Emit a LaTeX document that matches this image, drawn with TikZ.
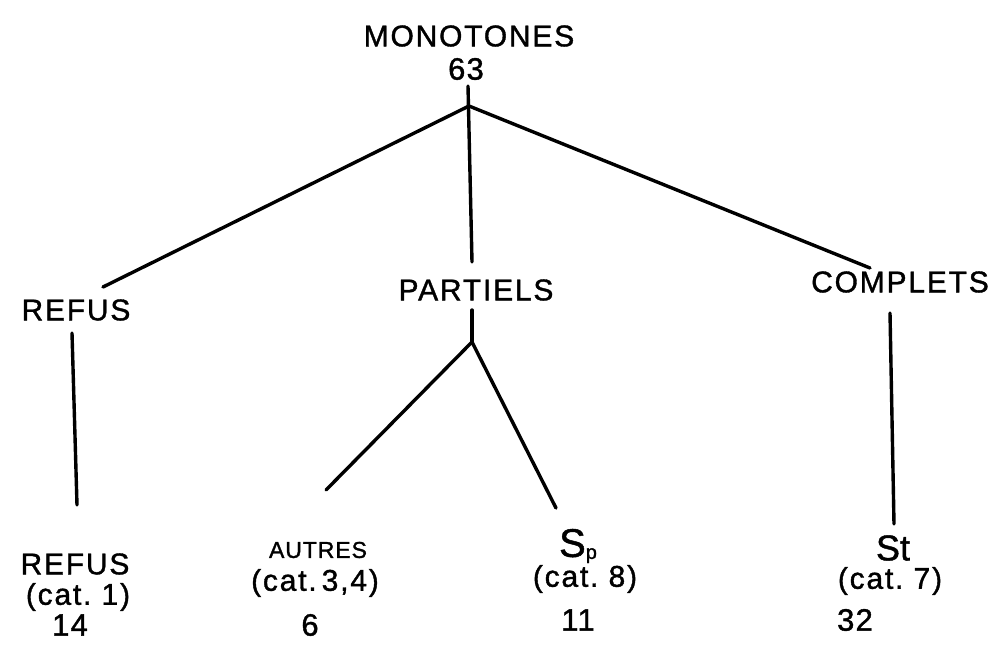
\documentclass[tikz,border=0pt]{standalone}
\usepackage{fontspec}
\setmainfont{Liberation Sans}[FakeBold=1.2]
\begin{document}
\begin{tikzpicture}[x=1pt,y=-1pt,
  lbl/.style={inner sep=0pt, font=\fontsize{30}{34}\selectfont\addfontfeature{LetterSpace=6}},
  sub/.style={inner sep=0pt, font=\fontsize{30}{34}\selectfont\addfontfeature{LetterSpace=6}},
  small/.style={inner sep=0pt, font=\fontsize{23}{26}\selectfont\addfontfeature{LetterSpace=4}},
  num/.style={inner sep=0pt, font=\fontsize{31}{35}\selectfont\addfontfeature{LetterSpace=4}},
  edge/.style={line width=3.4pt, line cap=round}]
\useasboundingbox (0,0) rectangle (993,645);
% top
\node[lbl] (mono) at (469,36) {MONOTONES};
\node[num] (n63) at (466,69) {63};
\coordinate (t0) at (468,86);
\coordinate (j) at (469,106);
% level 1
\node[lbl] (refus) at (76,310) {REFUS};
\node[lbl] (part) at (476,290) {PARTIELS};
\node[lbl] (comp) at (900,282) {COMPLETS};
\coordinate (rt) at (103,287);
\coordinate (pt) at (472,262);
\coordinate (ct) at (870,268);
\draw[edge] (t0) -- (pt);
\draw[edge] (j) -- (rt);
\draw[edge] (j) -- (ct);
% level 2
\coordinate (rb1) at (72,333);
\coordinate (rb2) at (77,505);
\draw[edge] (rb1) -- (rb2);
\coordinate (pb1) at (472,310);
\coordinate (pj) at (472,342);
\coordinate (pl) at (326,490);
\coordinate (pr) at (556,508);
\draw[edge] (pb1) -- (pj);
\draw[edge] (pj) -- (pl);
\draw[edge] (pj) -- (pr);
\coordinate (cb1) at (890,313);
\coordinate (cb2) at (894,524);
\draw[edge] (cb1) -- (cb2);
% leaves
\node[lbl] (refus2) at (75,564) {REFUS};
\node[sub] (cat1) at (78,597) {(cat.\ 1)};
\node[num] (n14) at (70,625) {14};
\node[small] (autres) at (318,550) {AUTRES};
\node[sub] (cat34) at (315,583) {(cat.\,3,4)};
\node[num] (n6) at (310,625) {6};
\node[inner sep=0pt] (sp) at (578,546) {\fontsize{40}{42}\selectfont S\raisebox{-2pt}{\fontsize{20}{22}\selectfont p}};
\node[sub] (cat8) at (585,579) {(cat.\ 8)};
\node[num] (n11) at (578,620) {11};
\node[inner sep=0pt] (st) at (893,548) {\fontsize{36}{38}\selectfont St};
\node[sub] (cat7) at (890,581) {(cat.\ 7)};
\node[num] (n32) at (855,620) {32};
\end{tikzpicture}
\end{document}
